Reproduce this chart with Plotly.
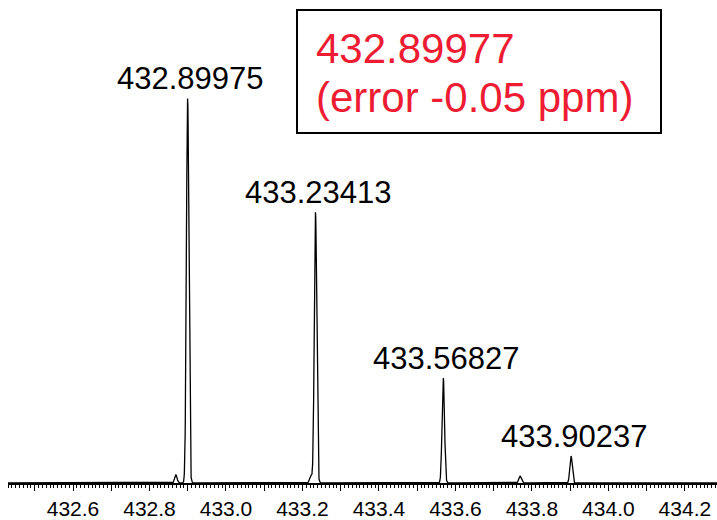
import numpy as np
import plotly.graph_objects as go

# Labelled isotope peaks: m/z and relative intensity
peak_mz = [432.89975, 433.23413, 433.56827, 433.90237]
peak_int = [100.0, 70.4, 27.3, 7.0]

# Small unlabelled peaks
minor_mz = [432.869, 433.222, 433.769]
minor_int = [2.1, 2.0, 1.8]

# Reported monoisotopic mass and error
calc_mz = "432.89977"
error_text = "(error -0.05 ppm)"

# Tick labels along the m/z axis
tick_vals = [round(432.4 + 0.1 * i, 1) for i in range(20)]
tick_text = [f"{v:.1f}" if round(v * 10) % 2 == 0 else "" for v in tick_vals]

# Profile spectrum built from the peak list (Gaussian peak shape)
sigma = 0.0032
x = np.arange(432.43, 434.285, 0.0004)
y = np.zeros_like(x)
for c, h in zip(peak_mz + minor_mz, peak_int + minor_int):
    y += h * np.exp(-0.5 * ((x - c) / sigma) ** 2)

fig = go.Figure()
fig.add_trace(go.Scatter(x=x, y=y, mode="lines",
                         line=dict(color="black", width=1.3),
                         hoverinfo="skip", showlegend=False))

font = "Arial, 'Liberation Sans', sans-serif"

for c, h in zip(peak_mz, peak_int):
    fig.add_annotation(x=c, y=h, text=f"{c:.5f}", showarrow=False,
                       xanchor="center", yanchor="bottom", xshift=3, yshift=0,
                       font=dict(family=font, size=31, color="black"))

# Boxed calculated mass
W, H = 717, 520
ml, mr, mt, mb = 8, 0, 0, 33
pw, ph = W - ml - mr, H - mt - mb


def px(xp):
    return (xp - ml) / pw


def py(yp):
    return (H - mb - yp) / ph


fig.add_shape(type="rect", xref="paper", yref="paper",
              x0=px(297), x1=px(661), y0=py(134), y1=py(10),
              line=dict(color="black", width=2), fillcolor="white")

red = "#EE1C33"
fig.add_annotation(xref="paper", yref="paper", x=px(314), y=py(49),
                   text=calc_mz, showarrow=False, xanchor="left", yanchor="middle",
                   font=dict(family=font, size=42, color=red))
fig.add_annotation(xref="paper", yref="paper", x=px(314), y=py(98),
                   text=error_text, showarrow=False, xanchor="left", yanchor="middle",
                   font=dict(family=font, size=42, color=red))

fig.update_layout(
    width=W, height=H,
    margin=dict(l=ml, r=mr, t=mt, b=mb),
    paper_bgcolor="white", plot_bgcolor="white",
    xaxis=dict(range=[432.430, 434.284], tickmode="array",
               tickvals=tick_vals, ticktext=tick_text,
               ticks="outside", ticklen=6, tickwidth=1, tickcolor="black",
               showline=True, linecolor="black", linewidth=1.5,
               showgrid=False, zeroline=False,
               tickfont=dict(family=font, size=21, color="black"),
               minor=dict(dtick=0.01, tick0=432.4, ticks="outside", ticklen=3,
                          tickwidth=1, tickcolor="black", showgrid=False)),
    yaxis=dict(range=[0, 125.5], visible=False, showgrid=False, zeroline=False),
)

fig.write_html("out.html")
